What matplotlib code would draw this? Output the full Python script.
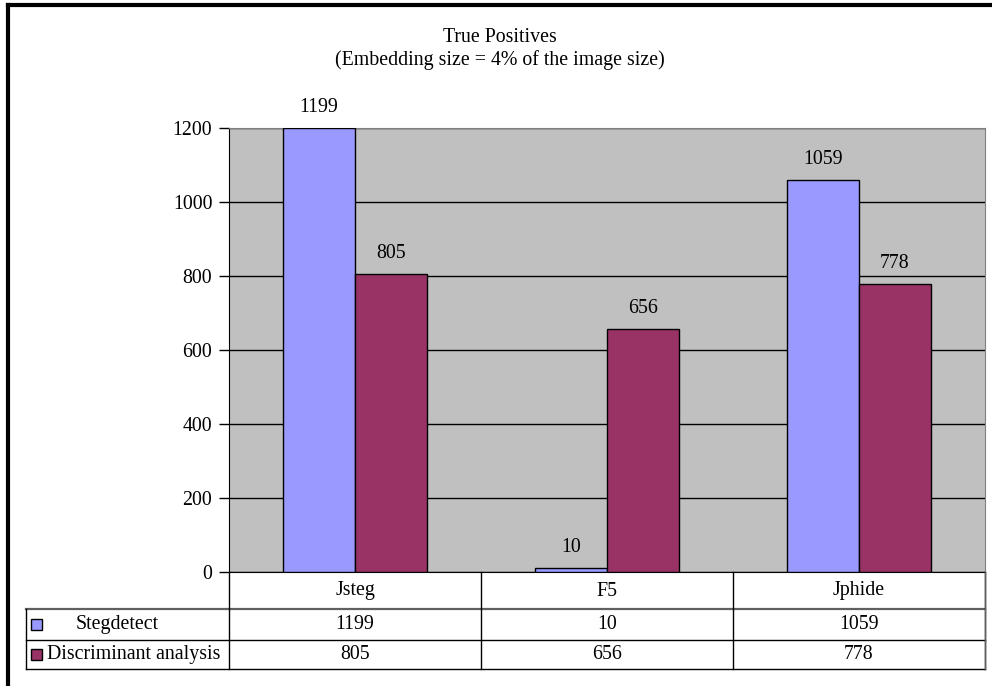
import matplotlib.pyplot as plt
from matplotlib.lines import Line2D
from matplotlib.patches import Rectangle

categories = ["Jsteg", "F5", "Jphide"]
series_names = ["Stegdetect", "Discriminant analysis"]
stegdetect = [1199, 10, 1059]
discriminant = [805, 656, 778]
colors = ["#9999FF", "#993366"]

W, H = 992, 686
plt.rcParams["font.family"] = ["Liberation Serif", "DejaVu Serif"]
FS = 14.3

fig = plt.figure(figsize=(W / 100, H / 100), dpi=100, facecolor="white")


def fx(px):
    return px / W


def fy(py):
    return 1 - py / H


# plot area in pixels
L, R, T, B = 229, 985, 128, 572
ax = fig.add_axes([fx(L), fy(B), fx(R - L), fy(T) - fy(B)])
ax.set_facecolor("#C0C0C0")

n = len(categories)
bw = 1 / 3.5
xs = list(range(n))
for k, vals in enumerate([stegdetect, discriminant]):
    pos = [x - bw + k * bw + bw / 2 for x in xs]
    bars = ax.bar(pos, vals, width=bw, color=colors[k], edgecolor="black",
                  linewidth=1, zorder=3)
    for b, v in zip(bars, vals):
        ax.annotate(str(v), (b.get_x() + b.get_width() / 2, v),
                    xytext=(0, 8), textcoords="offset points",
                    ha="center", va="bottom", fontsize=FS)

ax.set_xlim(-0.5, n - 0.5)
ax.set_ylim(0, 1200)
ax.set_yticks(range(0, 1201, 200))
ax.yaxis.grid(True, color="black", linewidth=1, zorder=1)
ax.set_axisbelow(True)
ax.set_xticks([])
ax.tick_params(axis="y", direction="out", length=7, width=1, labelsize=FS, pad=5)
for s in ["top", "right"]:
    ax.spines[s].set_color("#808080")
ax.spines["left"].set_color("black")
ax.spines["bottom"].set_color("black")

fig.text(fx(500), fy(37), "True Positives", ha="center", va="center", fontsize=FS)
fig.text(fx(500), fy(60), "(Embedding size = 4% of the image size)",
         ha="center", va="center", fontsize=FS)

# data table
def hline(y, x0, x1, c="black", lw=1):
    fig.add_artist(Line2D([fx(x0), fx(x1)], [fy(y), fy(y)], color=c, lw=lw))


def vline(x, y0, y1, c="black", lw=1):
    fig.add_artist(Line2D([fx(x), fx(x)], [fy(y0), fy(y1)], color=c, lw=lw))


col_w = (R - L) / n
rows_y = [572, 609, 640, 669]
hline(609, 26, R, c="#606060", lw=1.6)
hline(640, 26, R)
hline(669, 26, R)
for i in range(n + 1):
    vline(L + i * col_w, 572, 669)
vline(26, 609, 669)
vline(R, 572, 669, c="#606060")

for i, c in enumerate(categories):
    fig.text(fx(L + (i + 0.5) * col_w), fy(591), c, ha="center", va="center", fontsize=FS)
for r, vals in enumerate([stegdetect, discriminant]):
    yc = (rows_y[r + 1] + rows_y[r + 2]) / 2
    for i, v in enumerate(vals):
        fig.text(fx(L + (i + 0.5) * col_w), fy(yc), str(v), ha="center", va="center",
                 fontsize=FS)
    fig.add_artist(Rectangle((fx(31), fy(yc + 5)), fx(11), fy(0) - fy(11),
                             facecolor=colors[r], edgecolor="black", lw=1))
fig.text(fx(117), fy(624.5), series_names[0], ha="center", va="center", fontsize=FS)
fig.text(fx(47), fy(654.5), series_names[1], ha="left", va="center", fontsize=FS)

# outer border (top and left)
fig.add_artist(Line2D([fx(7.5), 1], [fy(4.5), fy(4.5)], color="black", lw=3))
fig.add_artist(Line2D([fx(7.5), fx(7.5)], [fy(4.5), 0], color="black", lw=3))

fig.savefig("out.png", dpi=100)
